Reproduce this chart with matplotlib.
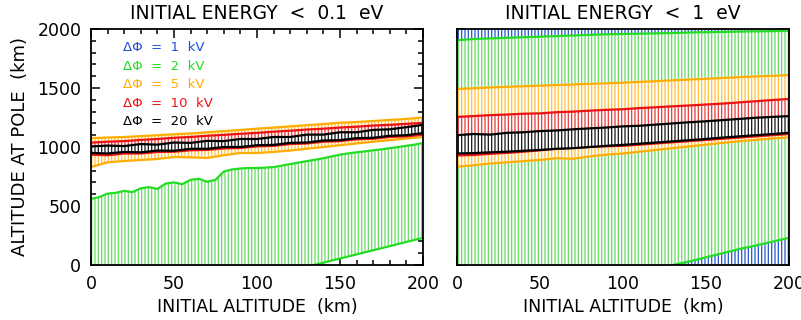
import matplotlib
matplotlib.use("Agg")
import matplotlib.pyplot as plt
from matplotlib.ticker import MultipleLocator

plt.rcParams['font.family'] = ['DejaVu Sans']
plt.rcParams['hatch.linewidth'] = 0.95

# ---------------- data ----------------
X10 = [0, 10, 20, 30, 40, 50, 60, 70, 80, 90, 100, 110, 120, 130, 140, 150, 160, 170, 180, 190, 200]
X5 = [0, 5, 10, 15, 20, 25, 30, 35, 40, 45, 50, 55, 60, 65, 70, 75, 80, 85, 90, 95, 100,
      105, 110, 115, 120, 125, 130, 135, 140, 145, 150, 155, 160, 165, 170, 175, 180, 185, 190, 195, 200]

titles = ["INITIAL ENERGY  <  0.1  eV", "INITIAL ENERGY  <  1  eV"]
legend_labels = ["ΔΦ  =  1  kV", "ΔΦ  =  2  kV", "ΔΦ  =  5  kV", "ΔΦ  =  10  kV", "ΔΦ  =  20  kV"]

# ---- left panel (E < 0.1 eV) ----
L_green_up = [560, 575, 605, 612, 628, 618, 650, 660, 645, 690, 700, 685, 722, 730, 705, 722, 792, 810, 818, 822, 822,
              825, 830, 842, 855, 868, 880, 892, 905, 920, 935, 946, 955, 963, 972, 980, 990, 1000, 1010, 1020, 1035]
L_green_lo = [-60, -60, -60, -60, -60, -60, -60, -60, -60, -60, -60, -60, -60, -15, 20, 55, 90, 125, 160, 195, 230]
L_orange_up = [1075, 1080, 1085, 1092, 1100, 1108, 1115, 1125, 1135, 1145, 1155, 1165, 1175, 1185, 1195, 1205, 1212, 1220, 1230, 1238, 1250]
L_orange_lo = [831, 870, 881, 890, 898, 915, 912, 907, 930, 949, 949, 958, 970, 985, 1000, 1015, 1030, 1045, 1058, 1072, 1085]
L_red_up = [1037, 1045, 1050, 1060, 1068, 1078, 1085, 1095, 1103, 1112, 1120, 1130, 1138, 1148, 1155, 1165, 1172, 1182, 1188, 1196, 1205]
L_red_lo = [935, 930, 945, 945, 958, 960, 972, 975, 988, 992, 1005, 1010, 1025, 1030, 1045, 1050, 1065, 1070, 1085, 1090, 1105]
L_black_up = [1005, 1012, 1008, 1025, 1020, 1038, 1035, 1052, 1050, 1068, 1068, 1085, 1085, 1105, 1105, 1125, 1125, 1145, 1150, 1168, 1188]
L_black_lo = [950, 945, 958, 955, 970, 968, 985, 985, 1000, 1000, 1015, 1018, 1035, 1038, 1055, 1058, 1075, 1078, 1095, 1100, 1118]

# ---- right panel (E < 1 eV) ----
R_blue_up = [2200, 2200, 2200, 2200, 2200, 2200, 2200, 2200, 2200, 2200, 2200, 2200, 2200, 2200, 2200, 2200, 2200, 2200, 2200, 2200, 2200]
R_blue_lo = [-100, -100, -100, -100, -100, -100, -100, -100, -100, -100, -100, -100, -100, -100, -100, -100, -100, -100, -100, -100, -100]
R_green_up = [1905, 1915, 1920, 1925, 1930, 1935, 1940, 1945, 1950, 1955, 1958, 1960, 1963, 1966, 1970, 1973, 1975, 1978, 1980, 1982, 1985]
R_green_lo = [-60, -60, -60, -60, -60, -60, -60, -60, -60, -60, -60, -60, -60, 0, 30, 65, 100, 135, 165, 198, 230]
R_orange_up = [1492, 1498, 1505, 1510, 1515, 1520, 1525, 1530, 1535, 1540, 1545, 1552, 1558, 1565, 1572, 1578, 1585, 1592, 1598, 1603, 1610]
R_orange_lo = [833, 845, 860, 870, 880, 890, 905, 900, 920, 935, 945, 960, 975, 990, 1005, 1020, 1035, 1048, 1060, 1072, 1082]
R_red_up = [1255, 1262, 1270, 1275, 1282, 1285, 1295, 1300, 1308, 1315, 1320, 1330, 1337, 1345, 1352, 1360, 1368, 1378, 1388, 1398, 1407]
R_red_lo = [928, 932, 942, 950, 960, 972, 985, 992, 1000, 1006, 1010, 1020, 1030, 1040, 1050, 1060, 1070, 1080, 1090, 1100, 1110]
R_black_up = [1100, 1110, 1105, 1120, 1125, 1135, 1140, 1150, 1158, 1165, 1175, 1180, 1190, 1200, 1210, 1218, 1228, 1238, 1248, 1255, 1262]
R_black_lo = [945, 948, 955, 960, 968, 975, 985, 990, 1000, 1010, 1018, 1028, 1038, 1048, 1058, 1068, 1080, 1090, 1100, 1110, 1120]

# ---------------- style ----------------
line_colors = {"blue": "#1f4fd8", "green": "#22dd22", "orange": "#ffad00", "red": "#ee1111", "black": "#000000"}
hatch_colors = {"blue": "#3060d0", "green": "#6ede6e", "orange": "#ffc445", "red": "#e84545", "black": "#222222"}

left_bands = [
    ("green", X5, L_green_up, X10, L_green_lo),
    ("orange", X10, L_orange_up, X10, L_orange_lo),
    ("red", X10, L_red_up, X10, L_red_lo),
    ("black", X10, L_black_up, X10, L_black_lo),
]
right_bands = [
    ("blue", X10, R_blue_up, X10, R_blue_lo),
    ("green", X10, R_green_up, X10, R_green_lo),
    ("orange", X10, R_orange_up, X10, R_orange_lo),
    ("red", X10, R_red_up, X10, R_red_lo),
    ("black", X10, R_black_up, X10, R_black_lo),
]

fig = plt.figure(figsize=(8.01, 3.20), dpi=100)
axL = fig.add_axes([91 / 801, 55 / 320, 332 / 801, 236 / 320])
axR = fig.add_axes([457 / 801, 55 / 320, 332 / 801, 236 / 320])


def draw_band(ax, k, name, xu, yu, xl, yl):
    # polygon bounded by upper curve and lower curve
    px = list(xu) + list(xl)[::-1]
    py = list(yu) + list(yl)[::-1]
    ax.fill(px, py, facecolor="white", edgecolor=hatch_colors[name], linewidth=0,
            hatch="|||||", zorder=2 + 2 * k)
    ax.plot(xu, yu, color=line_colors[name], lw=1.6, zorder=3 + 2 * k)
    ax.plot(xl, yl, color=line_colors[name], lw=1.6, zorder=3 + 2 * k)


for ax, bands, title in [(axL, left_bands, titles[0]), (axR, right_bands, titles[1])]:
    for k, b in enumerate(bands):
        draw_band(ax, k, *b)
    ax.set_xlim(0, 200)
    ax.set_ylim(0, 2000)
    ax.xaxis.set_major_locator(MultipleLocator(50))
    ax.xaxis.set_minor_locator(MultipleLocator(10))
    ax.yaxis.set_major_locator(MultipleLocator(500))
    ax.yaxis.set_minor_locator(MultipleLocator(100))
    ax.tick_params(which="both", direction="in", top=True, right=True, width=1.1, labelsize=12.5)
    ax.tick_params(which="major", length=6.5, pad=7)
    ax.tick_params(which="minor", length=3.5)
    for s in ax.spines.values():
        s.set_linewidth(1.3)
        s.set_zorder(20)
    ax.set_title(title, fontsize=13.5, pad=7)
    ax.set_xlabel("INITIAL ALTITUDE  (km)", fontsize=12.5, labelpad=4)

axL.set_ylabel("ALTITUDE AT POLE  (km)", fontsize=13, labelpad=6)
axR.set_yticklabels([])

leg_colors = ["blue", "green", "orange", "red", "black"]
for i, (lab, c) in enumerate(zip(legend_labels, leg_colors)):
    axL.text(0.095, 0.92 - i * 0.078, lab, color=line_colors[c], fontsize=9.5,
             transform=axL.transAxes, va="center", ha="left", zorder=30)

fig.savefig("out.png", dpi=100)
